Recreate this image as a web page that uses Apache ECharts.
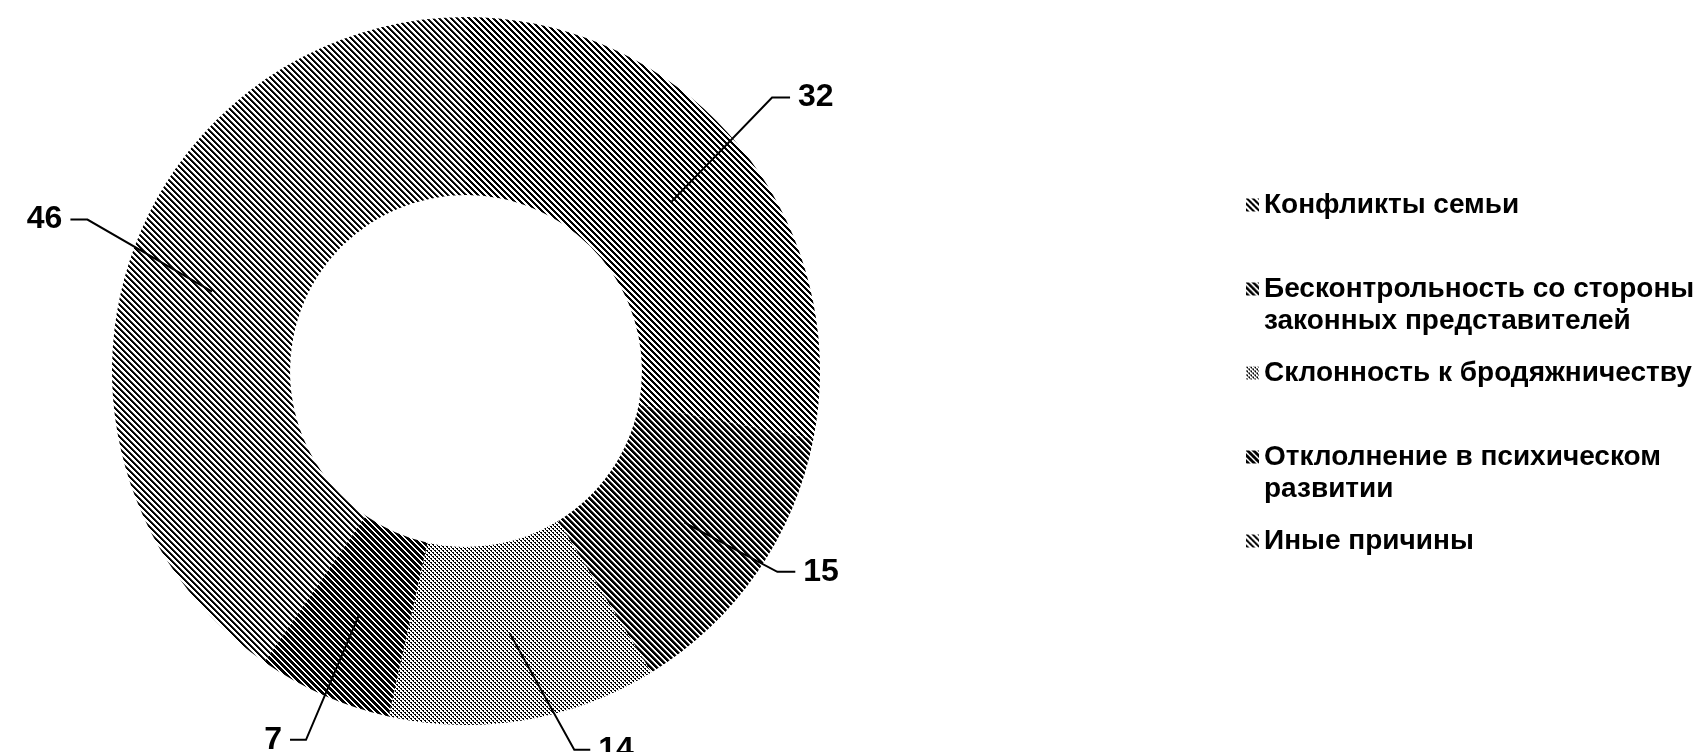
<!DOCTYPE html>
<html>
<head>
<meta charset="utf-8">
<script src="https://cdn.jsdelivr.net/npm/echarts@6/dist/echarts.min.js"></script>
<style>
html, body { margin: 0; padding: 0; background: #fff; }
#chart { width: 1706px; height: 752px; }
</style>
</head>
<body>
<div id="chart"></div>
<script>
const categories = [
    'Конфликты семьи',
    'Бесконтрольность со стороны законных представителей',
    'Склонность к бродяжничеству',
    'Отклолнение в психическом развитии',
    'Иные причины'
];
const values = [32, 15, 14, 7, 46];
// leading empty line keeps the legend icon level with the first text line
const legendText = [
    'Конфликты семьи',
    '\nБесконтрольность со стороны\nзаконных представителей',
    'Склонность к бродяжничеству',
    '\nОтклолнение в психическом\nразвитии',
    'Иные причины'
];

// leader lines: direction (deg), diagonal length, horizontal tail
const leaderAngle = [46, -28, -61, -113, 150];
const leaderLen = [145, 105, 133, 136, 144];
const leaderTail = [18, 18, 16, 16, 17];

const FONT = '"Liberation Sans", Arial, sans-serif';

function hatchTile(size, paint) {
    const c = document.createElement('canvas');
    c.width = size;
    c.height = size;
    const ctx = c.getContext('2d');
    const img = ctx.createImageData(size, size);
    for (let y = 0; y < size; y++) {
        for (let x = 0; x < size; x++) {
            const g = paint(x, y);
            const k = (y * size + x) * 4;
            img.data[k] = img.data[k + 1] = img.data[k + 2] = g;
            img.data[k + 3] = 255;
        }
    }
    ctx.putImageData(img, 0, 0);
    return { image: c, repeat: 'repeat' };
}

function diag(w, grey) {
    return function (x, y) {
        const k = ((x - y) % 6 + 6) % 6;
        if (k < w) return 0;
        if (k === w && grey != null) return grey;
        return 255;
    };
}

function dots(x, y) {
    const r = y % 4, c = x % 4;
    if (r === 0) return c < 2 ? 0 : 255;
    if (r === 1) return c === 1 ? 0 : 255;
    if (r === 2) return c >= 2 ? 0 : 255;
    return c === 3 ? 0 : 255;
}

const patterns = [
    hatchTile(6, diag(3)),
    hatchTile(6, diag(3, 110)),
    hatchTile(4, dots),
    hatchTile(6, diag(4)),
    hatchTile(6, diag(2, 60))
];

const chart = echarts.init(document.getElementById('chart'));
const center = [466, 371];

chart.setOption({
    backgroundColor: '#fff',
    animation: false,
    legend: {
        orient: 'vertical',
        left: 1246,
        top: 189,
        padding: 0,
        itemGap: 20,
        itemWidth: 13,
        itemHeight: 13,
        icon: 'rect',
        selectedMode: false,
        textStyle: { fontFamily: FONT, fontSize: 28, fontWeight: 'bold', lineHeight: 32, color: '#000' },
        data: categories,
        formatter: function (n) {
            return legendText[categories.indexOf(n)];
        }
    },
    series: [
        {
            type: 'pie',
            radius: [176, 354],
            center: center,
            startAngle: 90,
            clockwise: true,
            silent: true,
            z: 1,
            label: { show: false },
            labelLine: { show: false },
            itemStyle: { borderWidth: 0 },
            data: categories.map(function (n, i) {
                return { name: n, value: values[i], itemStyle: { color: patterns[i] } };
            })
        },
        {
            // invisible ring, only carries the value labels from mid-ring
            type: 'pie',
            radius: [176, 266],
            center: center,
            startAngle: 90,
            clockwise: true,
            silent: true,
            z: 5,
            itemStyle: { color: 'rgba(0,0,0,0)', borderWidth: 0 },
            label: {
                show: true,
                position: 'outside',
                formatter: '{c}',
                fontFamily: FONT,
                fontSize: 32,
                fontWeight: 'bold',
                color: '#000'
            },
            labelLine: {
                show: true,
                length: 20,
                length2: 10,
                lineStyle: { color: '#000', width: 2 }
            },
            labelLayout: function (p) {
                const i = p.dataIndex;
                const pts = p.labelLinePoints;
                if (!pts) return {};
                const a = leaderAngle[i] * Math.PI / 180;
                const p0 = pts[0];
                const p1 = [p0[0] + leaderLen[i] * Math.cos(a), p0[1] - leaderLen[i] * Math.sin(a)];
                const dir = Math.cos(a) >= 0 ? 1 : -1;
                const p2 = [p1[0] + dir * leaderTail[i], p1[1]];
                return {
                    x: p2[0] + dir * 8,
                    y: p2[1],
                    align: dir > 0 ? 'left' : 'right',
                    verticalAlign: 'middle',
                    labelLinePoints: [p0, p1, p2]
                };
            },
            data: categories.map(function (n, i) {
                return { name: n, value: values[i] };
            })
        }
    ]
});
</script>
</body>
</html>
